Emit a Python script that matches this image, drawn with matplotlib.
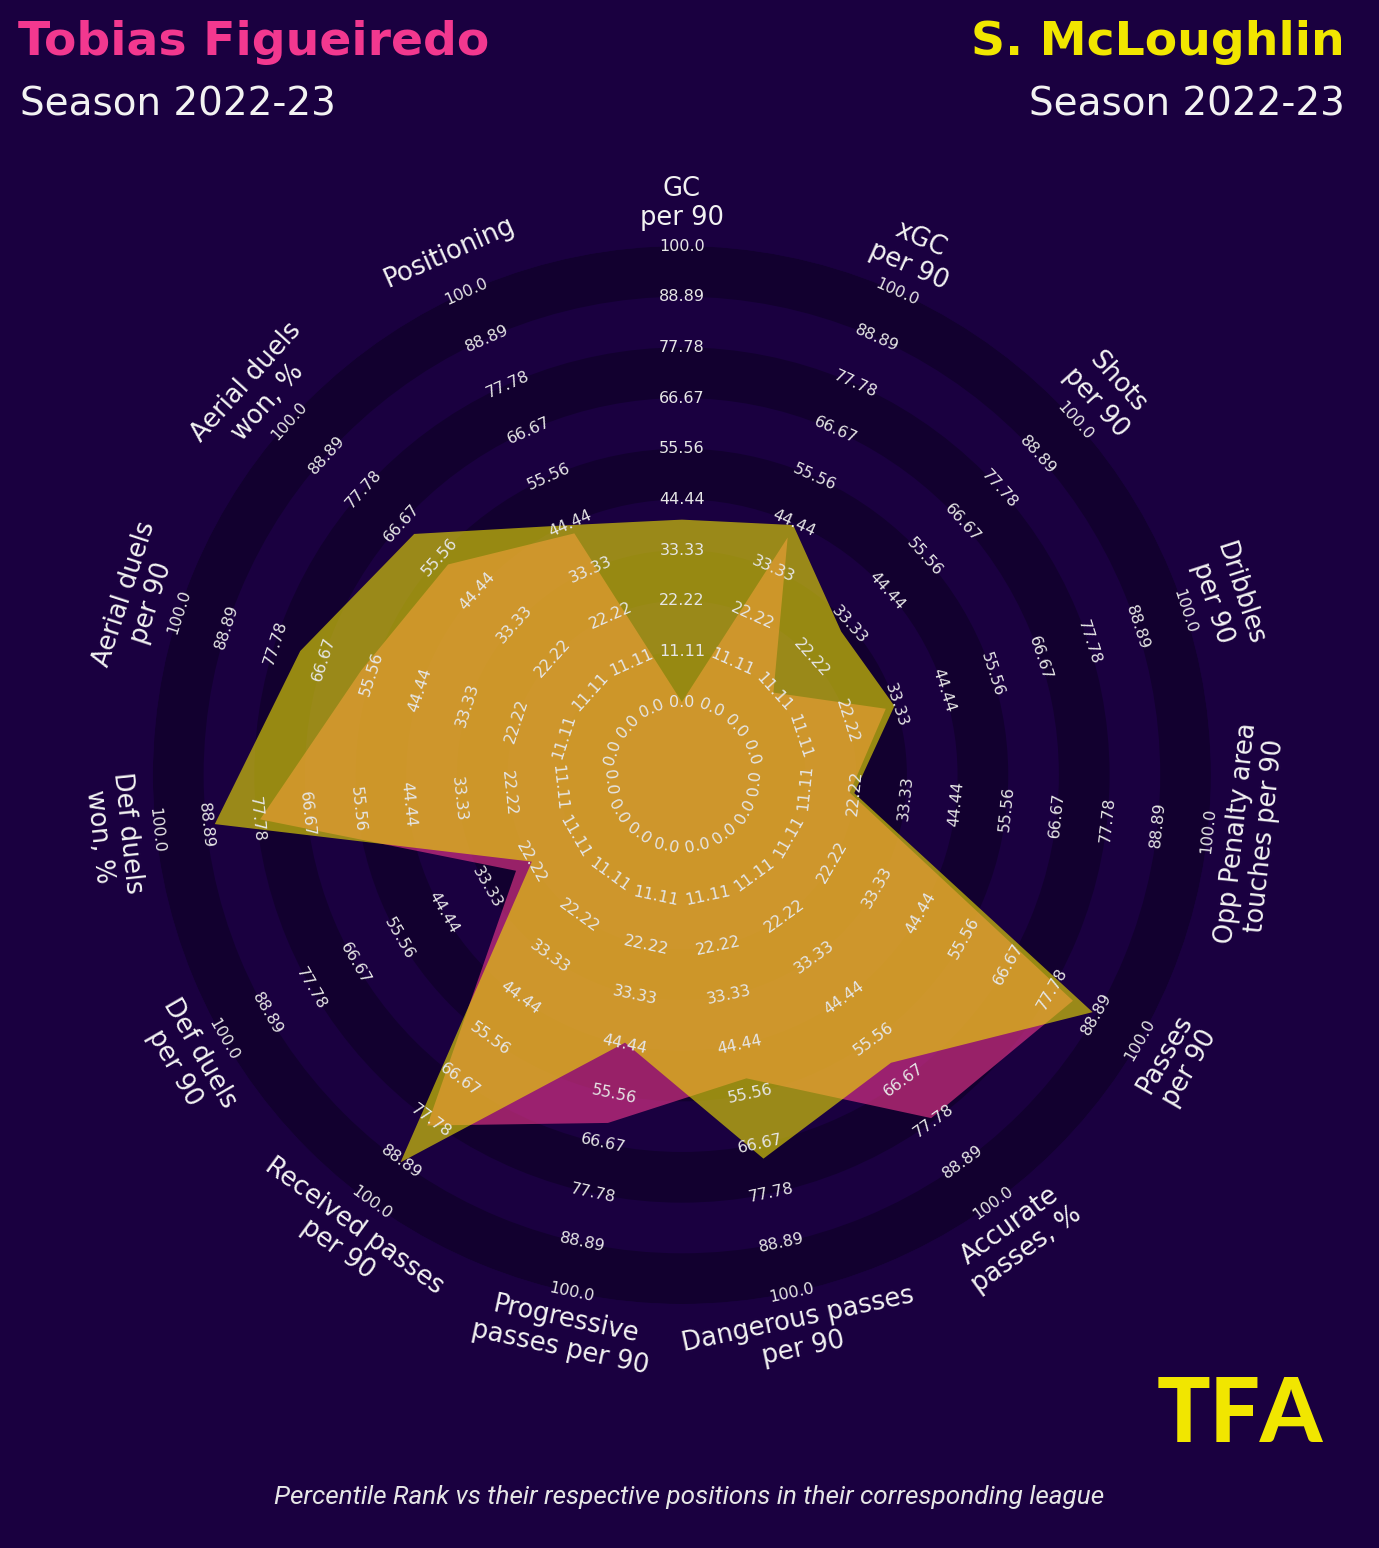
import numpy as np
import matplotlib.pyplot as plt

# percentile ranks, read clockwise from the top
params = ["GC\nper 90", "xGC\nper 90", "Shots\nper 90", "Dribbles\nper 90",
          "Opp Penalty area\ntouches per 90", "Passes\nper 90", "Accurate\npasses, %",
          "Dangerous passes\nper 90", "Progressive\npasses per 90",
          "Received passes\nper 90", "Def duels\nper 90", "Def duels\nwon, %",
          "Aerial duels\nper 90", "Aerial duels\nwon, %", "Positioning"]
figueiredo = [0, 41, 11, 31, 21, 83, 77, 52, 62, 79, 26, 77, 58, 53, 42]
mcloughlin = [40, 44, 31, 33, 22, 88, 62, 70, 44, 89, 22, 87, 72, 63, 44]
ring_values = np.linspace(0, 100, 10)

bg = '#1a0040'
ring_dark = '#12002f'
pink = '#f2388f'
yellow = '#f1e600'

fig = plt.figure(figsize=(13.79, 15.48), dpi=100, facecolor=bg)
ax = fig.add_axes([0.1109, 0.1576, 0.7672, 0.6835], projection='polar')
ax.set_facecolor(bg)
ax.set_theta_zero_location('N')
ax.set_theta_direction(-1)
# the centre circle sits below 0, so 0 starts a bit away from the middle
ax.set_ylim(-16, 100)
ax.set_rorigin(-16)
ax.set_xticks([])
ax.set_yticks([])
ax.grid(False)
ax.spines['polar'].set_visible(False)

# alternating rings
step = ring_values[1] - ring_values[0]
for i in range(0, len(ring_values) - 1, 2):
    ax.bar(0, step, width=2 * np.pi, bottom=ring_values[i], color=ring_dark,
           linewidth=0, zorder=1)

n = len(params)
angles = np.arange(n) * 360 / n
theta = np.deg2rad(angles)
theta_c = np.append(theta, theta[0])

ax.fill(theta_c, figueiredo + figueiredo[:1], color=pink, alpha=0.6, lw=0, zorder=2)
ax.fill(theta_c, mcloughlin + mcloughlin[:1], color=yellow, alpha=0.6, lw=0, zorder=3)


def text_rotation(a):
    rot = -a
    if 90 < a < 270:
        rot += 180
    return rot


for a, t, name in zip(angles, theta, params):
    rot = text_rotation(a)
    for v in ring_values:
        ax.text(t, v, str(round(v, 2)), rotation=rot, rotation_mode='anchor',
                ha='center', va='center', fontsize=11.5, color='#e6e6e6', zorder=5)
    ax.text(t, 109.4, name, rotation=rot, rotation_mode='anchor', ha='center',
            va='center', multialignment='center', fontsize=18.5, color='#f2f2f2',
            linespacing=1.15)

fig.text(0.013, 1 - 55 / 1548, "Tobias Figueiredo", color=pink, fontsize=34,
         fontweight='bold', ha='left', va='baseline')
fig.text(0.0145, 1 - 115 / 1548, "Season 2022-23", color='#f2f2f2', fontsize=28,
         ha='left', va='baseline')
fig.text(0.9754, 1 - 55 / 1548, "S. McLoughlin", color=yellow, fontsize=34,
         fontweight='bold', ha='right', va='baseline')
fig.text(0.9754, 1 - 115 / 1548, "Season 2022-23", color='#f2f2f2', fontsize=28,
         ha='right', va='baseline')

fig.text(0.5, 1 - 1497 / 1548,
         "Percentile Rank vs their respective positions in their corresponding league",
         family='Roboto', style='italic', fontsize=18.8, color='#e6e6e6',
         ha='center', va='center')
fig.text(1323 / 1379, 1 - 1442 / 1548, "TFA", family='Lato',
         fontweight=900, fontsize=64, color=yellow, ha='right', va='baseline')

fig.savefig('out.png', dpi=100, facecolor=bg)
